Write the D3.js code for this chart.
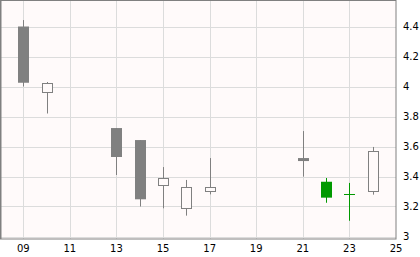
<!DOCTYPE html>
<html>
<head>
<meta charset="utf-8">
<script src="https://cdn.jsdelivr.net/npm/d3@7/dist/d3.min.js"></script>
<style>
  body { margin: 0; background: #fff; }
  svg { display: block; }
</style>
</head>
<body>
<div id="chart"></div>
<script>
'use strict';

// daily candles
const days   = [9, 10, 13, 14, 15, 16, 17, 21, 22, 23, 24];
const opens  = [4.40, 3.961, 3.723, 3.643, 3.341, 3.188, 3.301, 3.523, 3.365, 3.281, 3.301];
const highs  = [4.443, 4.03, 3.723, 3.643, 3.463, 3.377, 3.523, 3.703, 3.39, 3.357, 3.597];
const lows   = [4.00, 3.82, 3.41, 3.20, 3.188, 3.139, 3.281, 3.399, 3.225, 3.105, 3.279];
const closes = [4.025, 4.021, 3.53, 3.248, 3.388, 3.328, 3.328, 3.505, 3.259, 3.281, 3.568];
const greenDays = [22, 23];

const xTicks = [9, 11, 13, 15, 17, 19, 21, 23, 25];
const yTicks = [3, 3.2, 3.4, 3.6, 3.8, 4, 4.2, 4.4];

const W = 420, H = 257;
const plot = {left: 1, top: 1, right: 396, bottom: 239};

const candles = days.map((d, i) => ({
  day: d, open: opens[i], high: highs[i], low: lows[i], close: closes[i],
  green: greenDays.includes(d)
}));

const x = d3.scaleLinear().domain([8, 25]).range([0, plot.right]);
const y = d3.scaleLinear().domain([3, 4.4]).range([236.5, 26.5]);

const svg = d3.select('#chart').append('svg')
  .attr('width', W).attr('height', H);

svg.append('rect')
  .attr('x', plot.left).attr('y', plot.top)
  .attr('width', plot.right - plot.left).attr('height', plot.bottom - plot.top)
  .style('fill', '#fffafa');

const grid = svg.append('g');
grid.selectAll()
  .data(xTicks.filter(t => t < 25))
  .enter()
  .append('line')
  .attr('x1', d => Math.round(x(d)) + 0.5)
  .attr('x2', d => Math.round(x(d)) + 0.5)
  .attr('y1', plot.top).attr('y2', plot.bottom)
  .style('stroke', '#dcdcdc');
grid.selectAll()
  .data(yTicks)
  .enter()
  .append('line')
  .attr('x1', plot.left).attr('x2', plot.right)
  .attr('y1', d => Math.round(y(d)) + 0.5)
  .attr('y2', d => Math.round(y(d)) + 0.5)
  .style('stroke', '#dcdcdc');

// border
svg.append('rect')
  .attr('x', 0.5).attr('y', 0.5)
  .attr('width', plot.right - 0.5).attr('height', plot.bottom - 0.5)
  .style('fill', 'none')
  .style('stroke', '#808080');
svg.append('line')
  .attr('x1', 0.5).attr('x2', 0.5).attr('y1', 0).attr('y2', plot.bottom)
  .style('stroke', '#808080').style('stroke-width', 2);

const bw = 10;
const cg = svg.append('g');
candles.forEach(c => {
  const col = c.green ? '#009900' : '#808080';
  const cx = Math.round(x(c.day)) + 0.5;
  const g = cg.append('g');
  g.append('line')
    .attr('x1', cx).attr('x2', cx)
    .attr('y1', y(c.high)).attr('y2', y(c.low))
    .style('stroke', col);
  const top = y(Math.max(c.open, c.close));
  const bot = y(Math.min(c.open, c.close));
  if (c.open === c.close) {
    g.append('line')
      .attr('x1', cx - bw / 2 - 0.5).attr('x2', cx + bw / 2 + 0.5)
      .attr('y1', Math.round(top) + 0.5).attr('y2', Math.round(top) + 0.5)
      .style('stroke', col);
  } else if (c.close < c.open) {
    g.append('rect')
      .attr('x', cx - bw / 2 - 0.5).attr('y', top)
      .attr('width', bw + 1).attr('height', Math.max(bot - top, 3))
      .style('fill', col);
  } else {
    g.append('rect')
      .attr('x', cx - bw / 2).attr('y', Math.round(top) + 0.5)
      .attr('width', bw).attr('height', Math.round(bot - top))
      .style('fill', '#fffafa')
      .style('stroke', col);
  }
});

const font = 'DejaVu Sans, Verdana, sans-serif';
svg.append('g').selectAll()
  .data(xTicks)
  .enter()
  .append('text')
  .attr('x', d => x(d))
  .attr('y', 252)
  .attr('text-anchor', 'middle')
  .style('font-family', font)
  .style('font-size', '10px')
  .style('fill', '#000')
  .text(d => d3.format('02d')(d));
svg.append('g').selectAll()
  .data(yTicks)
  .enter()
  .append('text')
  .attr('x', 403)
  .attr('y', d => y(d))
  .attr('dy', '0.38em')
  .style('font-family', font)
  .style('font-size', '10px')
  .style('fill', '#000')
  .text(d => d3.format('~g')(d));
</script>
</body>
</html>
